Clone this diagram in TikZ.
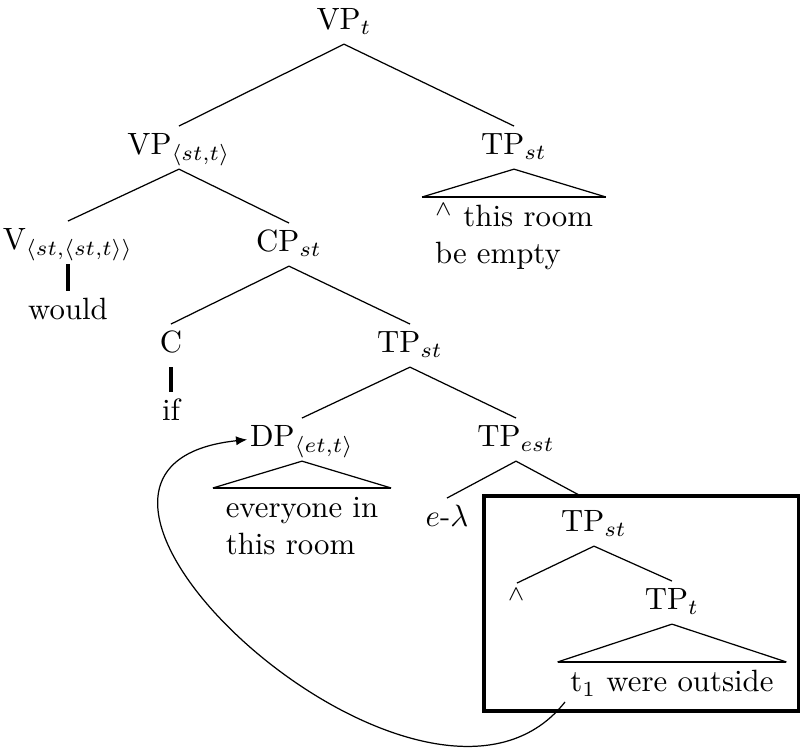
\documentclass[tikz,border=0pt]{standalone}
\usetikzlibrary{arrows.meta}
\pgfdeclarelayer{bottom}
\pgfdeclarelayer{background}
\pgfsetlayers{bottom,background,main}
\tikzset{
  lbl/.style={anchor=base, inner sep=0.8pt, text height=8.4pt, text depth=3.6pt},
  leafnode/.style={anchor=north, align=left, inner xsep=4pt, inner ysep=1pt},
  treeline/.style={line width=0.4pt},
  bar/.style={line width=1pt},
  basebar/.style={line width=0.9pt},
  boxframe/.style={draw, line width=1pt, fill=white},
  movearrow/.style={line width=0.4pt, -{Latex[length=3.6pt,width=3pt]}}
}
\begin{document}
\begin{tikzpicture}[x=0.3247pt, y=-0.3247pt]
\useasboundingbox (0,0) rectangle (800,748);
% nodes
\node[lbl] (VPt) at (344,30) {VP$_t$};
\node[lbl] (VPst) at (179,155) {VP$_{\langle st,t\rangle}$};
\node[lbl] (TPa) at (514,155) {TP$_{st}$};
\node[leafnode] (La) at (514,197) {\strut$^\wedge$ this room\\be empty};
\node[lbl] (V) at (68,250) {V$_{\langle st,\langle st,t\rangle\rangle}$};
\node[lbl] (would) at (68,320) {would};
\node[lbl] (CP) at (289,252) {CP$_{st}$};
\node[lbl] (C) at (171,353) {C};
\node[lbl] (if) at (171,421) {if};
\node[lbl] (TPb) at (410,353) {TP$_{st}$};
\node[lbl] (DP) at (302,447) {DP$_{\langle et,t\rangle}$};
\node[leafnode] (Lb) at (302,488) {\strut everyone in\\this room};
\node[lbl] (TPc) at (516,447) {TP$_{est}$};
\node[lbl] (elam) at (447,527) {$e$-$\lambda$};
\node[lbl] (TPd) at (594,532) {TP$_{st}$};
\node[lbl] (wedge) at (517,612) {$^\wedge$};
\node[lbl] (TPe) at (672,610) {TP$_t$};
\node[leafnode] (Lc) at (672,662) {\strut t$_1$ were outside};
\coordinate (trace) at (565,702);
% box and hidden edge
\begin{pgfonlayer}{bottom}
\draw[treeline] (TPc.south) -- (TPd.north);
\end{pgfonlayer}
\begin{pgfonlayer}{background}
\path[boxframe] (484,496) rectangle (798.5,711);
\end{pgfonlayer}
% edges
\draw[treeline] (VPt.south) -- (VPst.north);
\draw[treeline] (VPt.south) -- (TPa.north);
\draw[treeline] (VPst.south) -- (V.north);
\draw[treeline] (VPst.south) -- (CP.north);
\draw[treeline] (TPa.south) -- (La.north west);
\draw[treeline] (TPa.south) -- (La.north east);
\draw[basebar] (La.north west) -- (La.north east);
\draw[bar] (V.south) -- (would.north);
\draw[treeline] (CP.south) -- (C.north);
\draw[treeline] (CP.south) -- (TPb.north);
\draw[bar] (C.south) -- (if.north);
\draw[treeline] (TPb.south) -- (DP.north);
\draw[treeline] (TPb.south) -- (TPc.north);
\draw[treeline] (DP.south) -- (Lb.north west);
\draw[treeline] (DP.south) -- (Lb.north east);
\draw[basebar] (Lb.north west) -- (Lb.north east);
\draw[treeline] (TPc.south) -- (elam.north);
\draw[treeline] (TPd.south) -- (wedge.north);
\draw[treeline] (TPd.south) -- (TPe.north);
\draw[treeline] (TPe.south) -- (Lc.north west);
\draw[treeline] (TPe.south) -- (Lc.north east);
\draw[basebar] (Lc.north west) -- (Lc.north east);
% movement arrow
\draw[movearrow] (trace) .. controls (425,880) and (-22,468) .. (DP.west);
\end{tikzpicture}
\end{document}
